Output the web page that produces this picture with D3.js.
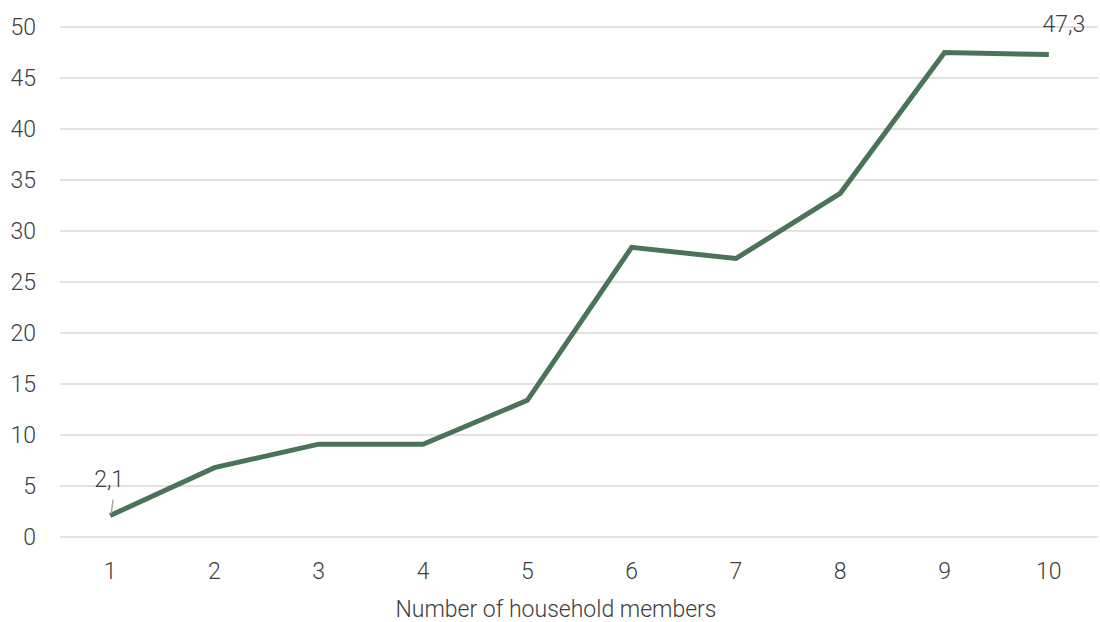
<!DOCTYPE html>
<html><head><meta charset="utf-8">
<script src="https://cdn.jsdelivr.net/npm/d3@7"></script>
<style>
body{margin:0;background:#fff;}
text{font-family:Roboto,"Open Sans",sans-serif;font-weight:300;fill:#404040;}
</style></head><body>
<svg id="c" width="1100" height="622"></svg>
<script>
const categories = ["1","2","3","4","5","6","7","8","9","10"];
const values = [2.1, 6.8, 9.1, 9.1, 13.4, 28.4, 27.3, 33.7, 47.5, 47.3];
const yTicks = [0,5,10,15,20,25,30,35,40,45,50];
const xTitle = "Number of household members";

(function(){
const svg = d3.select("#c");
const mL = 58, mR = 1101, mT = 27, mB = 537;
const x = d3.scaleBand().domain(categories).range([mL, mR]);
const y = d3.scaleLinear().domain([0,50]).range([mB, mT]);

svg.append("g").selectAll("line").data(yTicks).join("line")
  .attr("x1", mL+2).attr("x2", 1098)
  .attr("y1", d=>y(d)).attr("y2", d=>y(d))
  .attr("stroke", "#d9d9d9").attr("stroke-width", 1.5);

svg.append("g").selectAll("text").data(yTicks).join("text")
  .attr("x", 36).attr("y", d=>y(d)+8).attr("text-anchor","end")
  .attr("font-size", 23).text(d=>d);

svg.append("g").selectAll("text").data(categories).join("text")
  .attr("x", d=>x(d)+x.bandwidth()/2).attr("y", 579).attr("text-anchor","middle")
  .attr("font-size", 23).text(d=>d);

svg.append("text").attr("x", 556).attr("y", 617).attr("text-anchor","middle")
  .attr("font-size", 23).text(xTitle);

const line = d3.line().x((d,i)=>x(categories[i])+x.bandwidth()/2).y(d=>y(d));
svg.append("path").datum(values).attr("d", line)
  .attr("fill","none").attr("stroke","#4a745a").attr("stroke-width",5)
  .attr("stroke-linejoin","miter");

const cx0 = x(categories[0])+x.bandwidth()/2;
svg.append("line").attr("x1", cx0+1).attr("y1", y(values[0])-2)
  .attr("x2", cx0+3).attr("y2", y(values[0])-16)
  .attr("stroke","#a6a6a6").attr("stroke-width",1.5);
svg.append("text").attr("x", cx0-1).attr("y", y(values[0])-29).attr("text-anchor","middle")
  .attr("font-size", 23).text(String(values[0]).replace(".",","));
const cxN = x(categories[9])+x.bandwidth()/2;
svg.append("text").attr("x", cxN+15).attr("y", 32).attr("text-anchor","middle")
  .attr("font-size", 23).text(String(values[9]).replace(".",","));
})();
</script>
</body></html>
